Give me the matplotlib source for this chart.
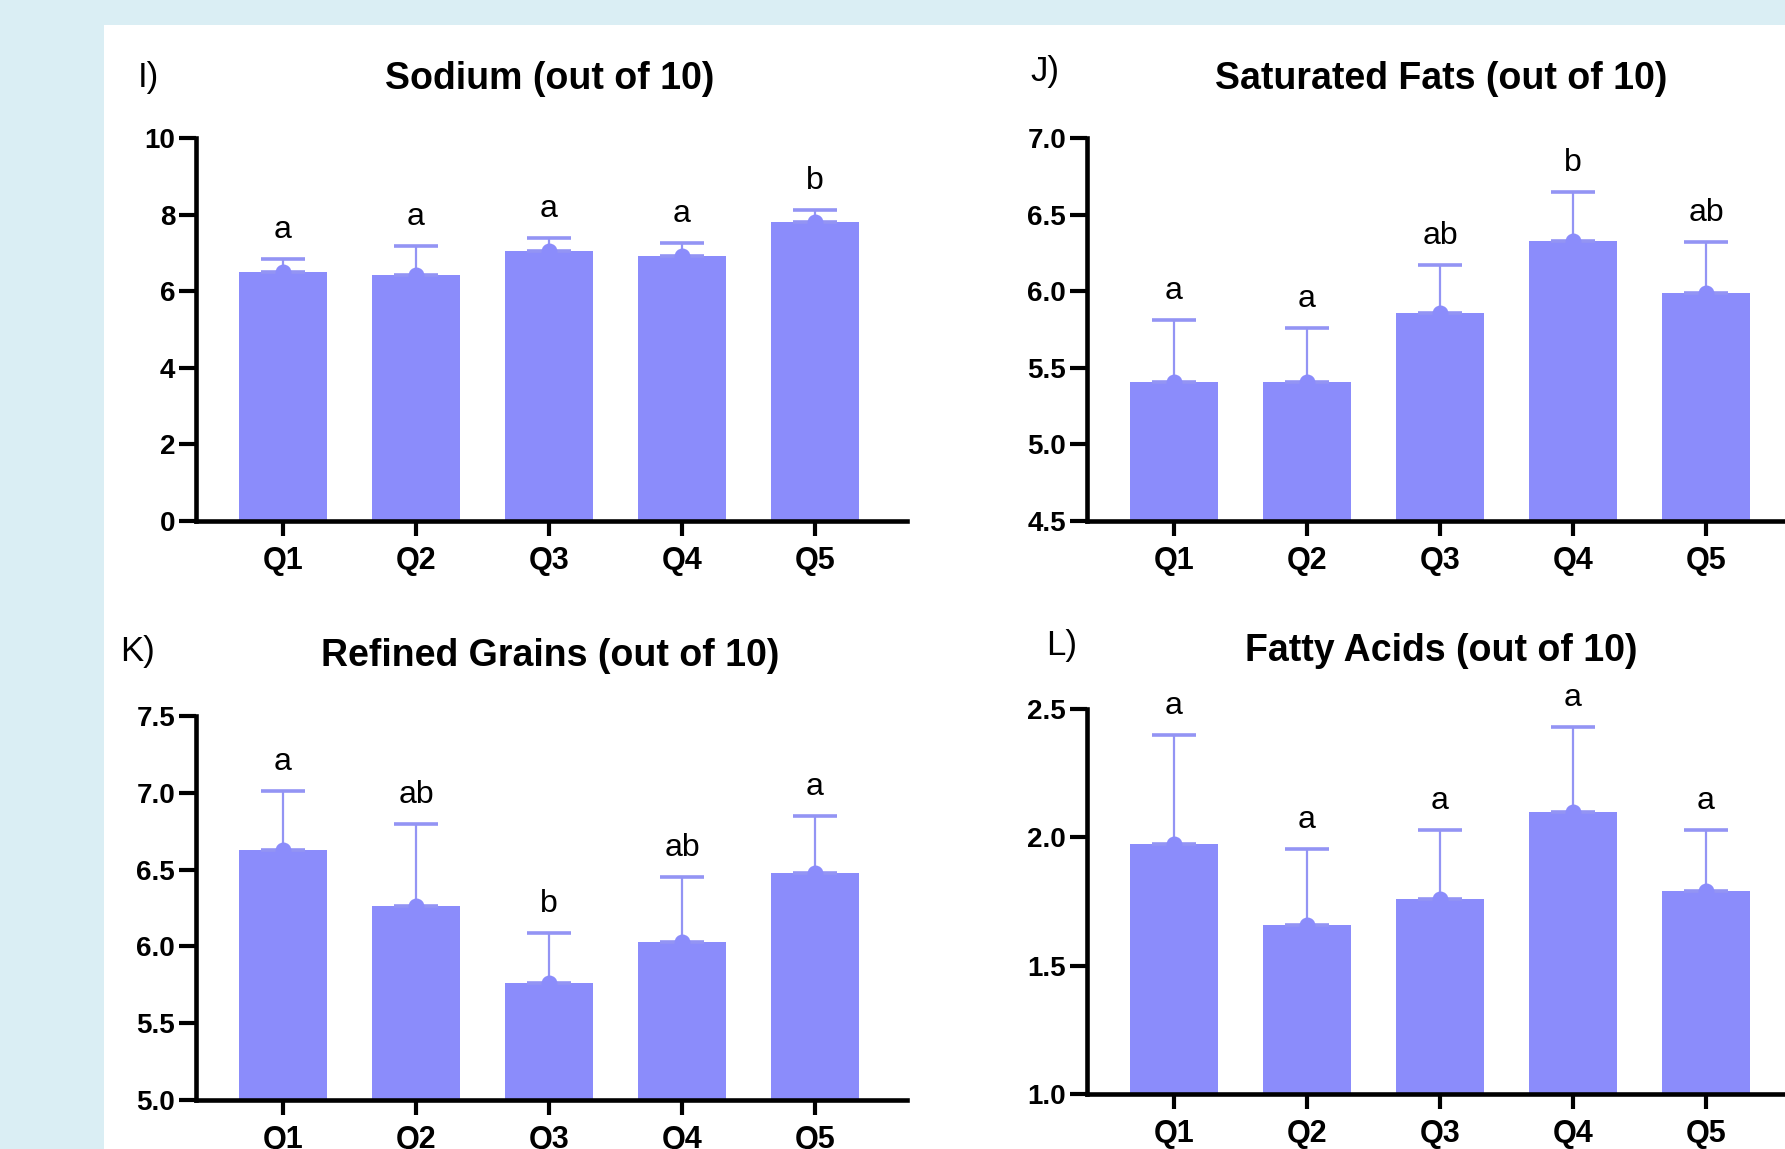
import matplotlib
matplotlib.use('Agg')
import matplotlib.pyplot as plt
from matplotlib.patches import Rectangle
import numpy as np

plt.rcParams['font.family'] = ['Liberation Sans', 'DejaVu Sans']

# ---------------- data ----------------
categories = ['Q1', 'Q2', 'Q3', 'Q4', 'Q5']

sodium_mean = [6.50, 6.42, 7.04, 6.93, 7.80]
sodium_upper = [6.85, 7.18, 7.39, 7.25, 8.12]
sodium_letters = ['a', 'a', 'a', 'a', 'b']
sodium_ticks = [0, 2, 4, 6, 8, 10]

satfat_mean = [5.41, 5.41, 5.86, 6.33, 5.99]
satfat_upper = [5.81, 5.76, 6.17, 6.65, 6.32]
satfat_letters = ['a', 'a', 'ab', 'b', 'ab']
satfat_ticks = [4.5, 5.0, 5.5, 6.0, 6.5, 7.0]

refined_mean = [6.63, 6.26, 5.76, 6.03, 6.48]
refined_upper = [7.01, 6.80, 6.09, 6.45, 6.85]
refined_letters = ['a', 'ab', 'b', 'ab', 'a']
refined_ticks = [5.0, 5.5, 6.0, 6.5, 7.0, 7.5]

fatty_mean = [1.975, 1.66, 1.76, 2.10, 1.79]
fatty_upper = [2.40, 1.955, 2.03, 2.43, 2.03]
fatty_letters = ['a', 'a', 'a', 'a', 'a']
fatty_ticks = [1.0, 1.5, 2.0, 2.5]

panels = [
    ('I)', 'Sodium (out of 10)', sodium_mean, sodium_upper, sodium_letters, sodium_ticks, '{:.0f}'),
    ('J)', 'Saturated Fats (out of 10)', satfat_mean, satfat_upper, satfat_letters, satfat_ticks, '{:.1f}'),
    ('K)', 'Refined Grains (out of 10)', refined_mean, refined_upper, refined_letters, refined_ticks, '{:.1f}'),
    ('L)', 'Fatty Acids (out of 10)', fatty_mean, fatty_upper, fatty_letters, fatty_ticks, '{:.1f}'),
]

# ---------------- layout ----------------
W, H = 1785, 1149
fig = plt.figure(figsize=(W / 100, H / 100), dpi=100)
fig.patch.set_facecolor('#DAEEF4')
fig.add_artist(Rectangle((104 / W, 0), 1 - 104 / W, 1 - 25 / H,
                         transform=fig.transFigure, facecolor='white',
                         edgecolor='none', zorder=0))

def px_rect(left, top, right, bottom):
    return [left / W, 1 - bottom / H, (right - left) / W, (bottom - top) / H]

axes_px = [(196, 138, 907, 521), (1087, 138, 1798, 521),
           (196, 716, 907, 1100), (1087, 709, 1798, 1094)]
title_px = [(550, 79), (1441, 79), (550, 656), (1441, 651)]
letter_px = [(148, 78), (1045, 71), (137, 651), (1062, 646)]

BAR = '#8B8CFB'
ERR = '#9394F4'

for (plabel, title, mean, upper, letters, ticks, fmt), apx, tpx, lpx in zip(
        panels, axes_px, title_px, letter_px):
    ax = fig.add_axes(px_rect(*apx))
    ax.set_facecolor('none')
    x = np.arange(len(categories))
    mean = np.array(mean)
    upper = np.array(upper)
    ax.bar(x, mean, width=0.66, color=BAR, zorder=2)
    ax.errorbar(x, mean, yerr=[np.zeros_like(mean), upper - mean], fmt='none',
                ecolor=ERR, elinewidth=1.6, capsize=16, capthick=2.6, zorder=3)
    ax.plot(x, mean, 'o', ms=11.5, color=BAR, mec='none', zorder=4, clip_on=False)
    for xi, up, let in zip(x, upper, letters):
        ax.annotate(let, (xi, up), xytext=(0, 15), textcoords='offset points',
                    ha='center', va='baseline', fontsize=23, color='black')
    ax.set_xlim(-0.654, 4.692)
    ax.set_ylim(ticks[0], ticks[-1])
    ax.set_yticks(ticks)
    ax.set_yticklabels([fmt.format(t) for t in ticks])
    ax.set_xticks(x)
    ax.set_xticklabels(categories)
    for s in ['top', 'right']:
        ax.spines[s].set_visible(False)
    for s in ['left', 'bottom']:
        ax.spines[s].set_linewidth(3.3)
        ax.spines[s].set_color('black')
    ax.tick_params(axis='y', length=12, width=3, pad=3, labelsize=20)
    ax.tick_params(axis='x', length=11, width=3, pad=7, labelsize=22)
    for lab in ax.get_xticklabels() + ax.get_yticklabels():
        lab.set_fontweight('bold')
    fig.text(tpx[0] / W, 1 - tpx[1] / H, title, ha='center', va='center',
             fontsize=27, fontweight='bold')
    fig.text(lpx[0] / W, 1 - lpx[1] / H, plabel, ha='center', va='center',
             fontsize=25)

fig.savefig('out.png', dpi=100, facecolor=fig.get_facecolor())
